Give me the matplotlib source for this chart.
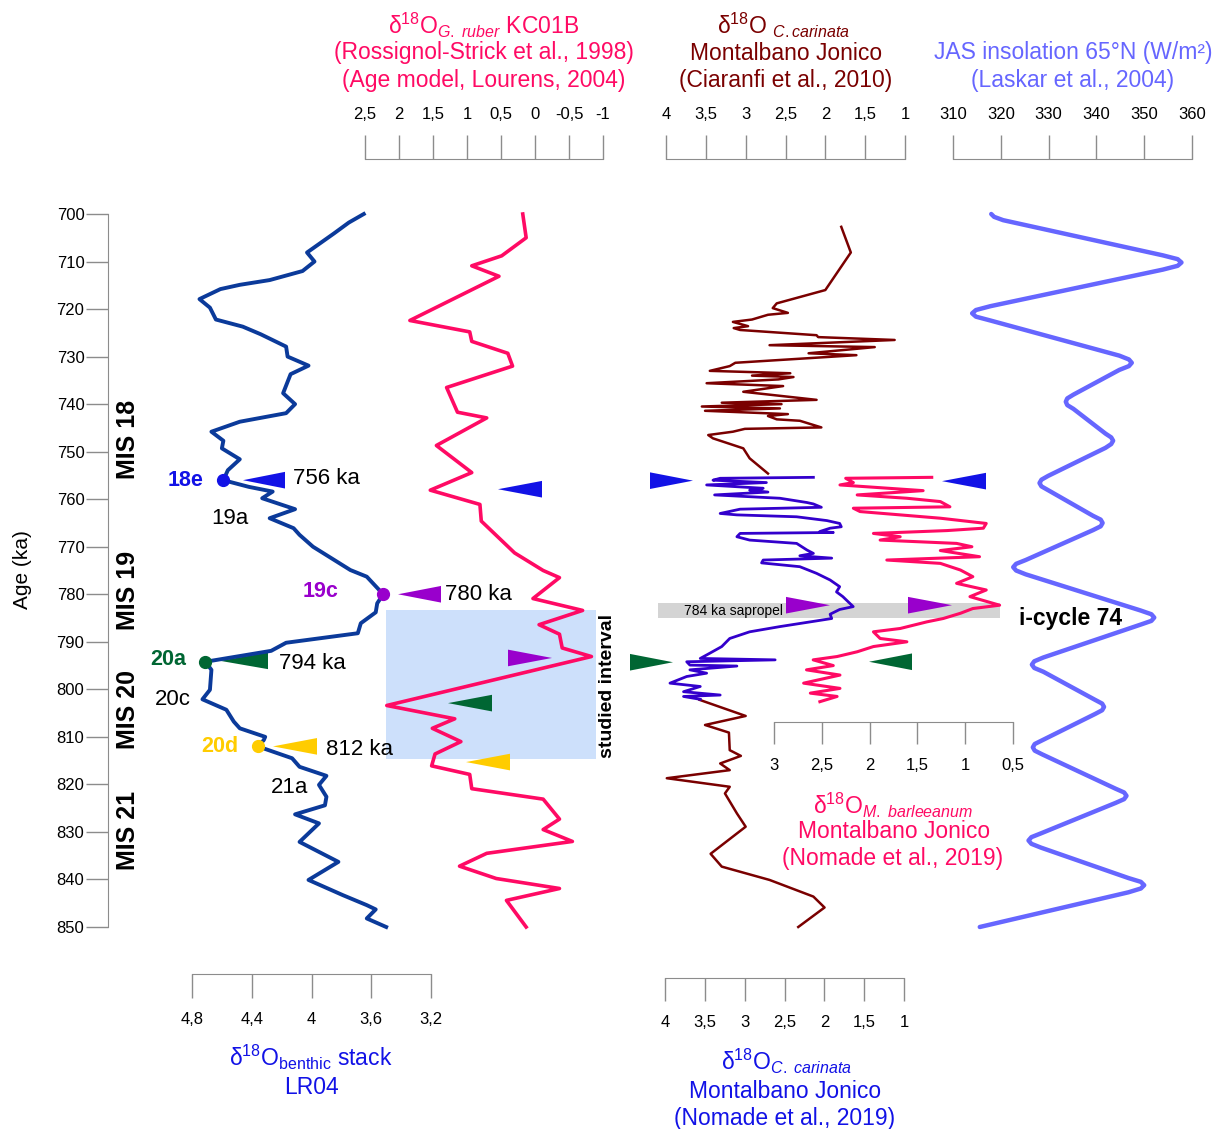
import numpy as np
import matplotlib.pyplot as plt
from matplotlib.patches import Rectangle

plt.rcParams['font.family'] = ['Liberation Sans', 'DejaVu Sans']
plt.rcParams['mathtext.fontset'] = 'custom'
plt.rcParams['mathtext.rm'] = 'Liberation Sans'
plt.rcParams['mathtext.it'] = 'Liberation Sans:italic'
plt.rcParams['mathtext.bf'] = 'Liberation Sans:bold'

# --- LR04 benthic stack (age ka, d18O permil)
lr_age = [700.0, 701.8, 704.1, 708.1, 710.0, 712.0, 713.9, 714.9, 715.8, 717.9,
          719.7, 722.2, 723.7, 725.3, 727.9, 730.0, 731.9, 733.7, 737.7, 740.0,
          741.9, 743.7, 745.8, 747.7, 749.3, 751.6, 753.9, 756.0, 757.4, 758.4,
          759.8, 762.1, 764.0, 766.1, 767.5, 770.0, 774.9, 776.3, 780.0, 781.9,
          783.8, 786.1, 788.2, 790.2, 791.9, 794.2, 795.9, 800.1, 802.1, 804.3,
          806.8, 808.2, 810.0, 810.7, 812.0, 814.5, 816.3, 818.2, 820.1, 822.6,
          824.4, 826.3, 828.2, 832.1, 836.3, 840.1, 843.3, 845.4, 846.3, 848.2, 850.0]
lr_val = [3.65, 3.75, 3.85, 4.03, 3.98, 4.06, 4.28, 4.48, 4.61, 4.75,
          4.68, 4.64, 4.46, 4.34, 4.17, 4.16, 4.02, 4.14, 4.19, 4.11,
          4.17, 4.48, 4.67, 4.59, 4.60, 4.48, 4.56, 4.59, 4.42, 4.26,
          4.33, 4.11, 4.28, 4.12, 4.08, 3.99, 3.74, 3.63, 3.52, 3.56,
          3.57, 3.67, 3.69, 4.17, 4.27, 4.71, 4.67, 4.68, 4.73, 4.57,
          4.52, 4.48, 4.31, 4.32, 4.36, 4.13, 4.08, 3.90, 3.95, 3.90,
          3.91, 4.11, 3.95, 4.08, 3.82, 4.02, 3.79, 3.63, 3.57, 3.63, 3.50]

# marine isotope events on LR04
ev_name = ['18e', '19c', '20a', '20d']
ev_age = [756.0, 780.0, 794.2, 812.0]
ev_val = [4.59, 3.52, 4.71, 4.36]
ev_label = ['756 ka', '780 ka', '794 ka', '812 ka']

# --- KC01B G. ruber
kc_age = [700.0, 705.0, 708.8, 710.9, 713.1, 722.4, 724.8, 726.8, 729.3, 732.0,
          736.5, 741.7, 742.9, 748.7, 754.4, 758.1, 761.1, 764.6, 771.3, 775.0,
          776.5, 780.9, 783.4, 786.4, 788.4, 791.3, 793.1, 803.4, 806.2, 808.2,
          811.0, 813.6, 816.1, 817.9, 820.9, 823.1, 827.3, 829.5, 832.0, 834.5,
          837.2, 839.8, 841.9, 844.4, 850.0]
kc_val = [0.18, 0.13, 0.49, 0.93, 0.53, 1.84, 0.96, 0.93, 0.40, 0.33,
          1.30, 1.14, 0.71, 1.45, 0.93, 1.54, 0.81, 0.79, 0.30, -0.12,
          -0.36, 0.03, -0.70, -0.06, -0.36, -0.40, -0.83, 2.18, 1.18, 1.51,
          1.09, 1.47, 1.52, 0.96, 0.93, -0.12, -0.36, -0.12, -0.55, 0.71,
          1.11, 0.57, -0.36, 0.42, 0.13]

# --- Montalbano Jonico C. carinata (Ciaranfi et al., 2010)
ci_age_top = [702.7, 708.1, 716.0, 718.8, 719.8, 720.8, 721.2, 722.2, 722.7, 723.6,
              724.0, 724.4, 725.5, 725.9, 726.5, 727.6, 728.0, 729.3, 729.7, 731.3,
              732.0, 733.0, 733.5, 734.0, 734.3, 734.8, 735.6, 736.2, 737.4, 739.1,
              739.7, 740.0, 740.5, 740.9, 741.4, 742.1, 742.5, 743.2, 743.5, 744.9,
              745.2, 745.8, 746.5, 747.2, 749.3, 751.4, 754.6]
ci_val_top = [1.80, 1.68, 2.00, 2.61, 2.66, 2.47, 2.72, 2.92, 3.16, 2.97,
              3.15, 3.07, 2.11, 2.09, 1.13, 2.70, 1.38, 2.21, 1.61, 3.13,
              3.20, 3.45, 2.44, 2.92, 2.40, 2.59, 3.49, 2.53, 3.03, 2.11,
              3.30, 2.55, 3.55, 2.57, 3.51, 2.47, 2.72, 2.61, 2.32, 2.05,
              3.01, 3.16, 3.47, 3.41, 3.03, 2.95, 2.72]
ci_age_low = [802.2, 805.6, 807.5, 809.1, 812.8, 814.0, 815.6, 817.0, 818.7, 820.5,
              821.9, 826.1, 828.9, 834.6, 837.3, 840.1, 843.6, 845.9, 850.0]
ci_val_low = [3.58, 3.00, 3.51, 3.21, 3.20, 3.06, 3.32, 3.20, 3.99, 3.20,
              3.26, 3.11, 3.00, 3.44, 3.30, 2.70, 2.15, 2.01, 2.34]

# --- Montalbano Jonico C. carinata (Nomade et al., 2019)
nc_age = [755.4, 755.6, 756.0, 756.5, 757.0, 757.7, 758.1, 758.5, 759.1, 759.8,
          760.7, 761.0, 761.7, 762.1, 763.0, 763.3, 763.7, 764.5, 765.1, 765.8,
          766.1, 766.8, 767.0, 767.2, 767.9, 768.6, 769.3, 770.7, 771.4, 771.9,
          772.4, 772.8, 773.4, 774.2, 775.6, 777.0, 778.4, 779.5, 780.5, 782.6,
          783.2, 784.2, 785.1, 785.6, 786.8, 787.9, 789.3, 791.0, 792.4, 793.5,
          793.8, 794.2, 794.9, 795.1, 795.9, 796.6, 797.3, 798.7, 799.4, 800.5,
          801.2, 801.5, 802.1]
nc_val = [2.15, 3.32, 3.41, 2.74, 3.49, 2.78, 2.95, 2.72, 3.39, 2.57,
          2.23, 2.15, 2.05, 3.07, 3.32, 3.11, 2.36, 1.98, 1.82, 1.80,
          1.94, 2.07, 1.90, 3.07, 3.11, 2.95, 2.36, 2.23, 2.15, 2.32,
          1.92, 2.78, 2.80, 2.32, 2.11, 1.94, 1.82, 1.86, 1.78, 1.65,
          1.82, 1.94, 1.92, 2.11, 2.57, 2.95, 3.20, 3.30, 3.45, 3.57,
          2.63, 3.74, 3.70, 3.11, 3.70, 3.49, 3.74, 3.95, 3.57, 3.78,
          3.32, 3.78, 3.57]

# --- Montalbano Jonico M. barleeanum (Nomade et al., 2019)
nb_age = [755.4, 755.6, 756.5, 757.0, 758.2, 759.1, 759.8, 760.5, 761.6, 761.9,
          762.6, 764.0, 765.1, 766.1, 766.6, 767.2, 767.9, 768.6, 769.3, 770.0,
          770.8, 772.1, 772.8, 773.5, 774.9, 776.3, 777.7, 779.1, 780.5, 782.3,
          783.0, 784.0, 785.1, 785.8, 787.2, 787.9, 789.3, 790.0, 791.0, 792.1,
          793.1, 793.8, 795.0, 795.9, 797.0, 798.7, 799.8, 800.8, 801.5, 802.6]
nb_val = [1.35, 2.25, 2.17, 2.31, 1.44, 2.13, 1.61, 1.26, 1.16, 2.17,
          2.10, 1.26, 0.78, 0.81, 1.19, 1.96, 1.68, 1.89, 1.09, 0.93,
          1.26, 0.85, 1.82, 1.26, 1.05, 0.92, 1.09, 0.78, 0.95, 0.64,
          0.92, 1.05, 1.23, 1.40, 1.68, 1.96, 1.89, 1.61, 1.96, 2.13,
          2.34, 2.59, 2.38, 2.66, 2.31, 2.69, 2.31, 2.62, 2.34, 2.52]

# --- JAS insolation 65N (Laskar et al., 2004)
ja_age = [700.0, 700.6, 701.3,
          708.7, 709.5, 710.2, 710.9, 711.7,
          719.4, 720.2, 720.9, 721.6, 722.4,
          729.8, 730.6, 731.3, 732.0, 732.8,
          738.0, 738.8, 739.5, 740.2, 741.0,
          746.2, 747.0, 747.7, 748.4, 749.2,
          755.1, 755.9, 756.6, 757.3, 758.1,
          763.5, 764.3, 765.0, 765.7, 766.5,
          772.8, 773.6, 774.3, 775.0, 775.8,
          783.4, 784.2, 784.9, 785.6, 786.4,
          793.3, 794.1, 794.8, 795.5, 796.3,
          802.2, 803.0, 803.7, 804.4, 805.2,
          810.7, 811.5, 812.2, 812.9, 813.7,
          820.9, 821.7, 822.4, 823.1, 823.9,
          830.3, 831.1, 831.8, 832.5, 833.3,
          839.7, 840.5, 841.2, 841.9, 842.7,
          850.0]
ja_val = [318.0, 318.6, 320.5,
          353.9, 357.0, 357.8, 357.0, 353.9,
          317.8, 314.8, 314.0, 314.8, 317.8,
          344.8, 346.8, 347.4, 346.8, 344.8,
          335.2, 333.9, 333.6, 333.9, 335.2,
          341.9, 343.1, 343.5, 343.1, 341.9,
          329.9, 328.5, 328.1, 328.5, 329.9,
          339.3, 340.9, 341.3, 340.9, 339.3,
          325.2, 323.2, 322.6, 323.2, 325.2,
          349.2, 351.5, 352.1, 351.5, 349.2,
          328.9, 327.0, 326.5, 327.0, 328.9,
          339.7, 341.2, 341.6, 341.2, 339.7,
          328.7, 327.1, 326.7, 327.1, 328.7,
          344.0, 345.8, 346.3, 345.8, 344.0,
          328.4, 326.4, 325.8, 326.4, 328.4,
          346.7, 349.3, 350.0, 349.3, 346.7,
          315.6]

age_ticks = list(range(700, 851, 10))

lr_ticks = [4.8, 4.4, 4.0, 3.6, 3.2]
lr_labels = ['4,8', '4,4', '4', '3,6', '3,2']
kc_ticks = [2.5, 2, 1.5, 1, 0.5, 0, -0.5, -1]
kc_labels = ['2,5', '2', '1,5', '1', '0,5', '0', '-0,5', '-1']
cc_ticks = [4, 3.5, 3, 2.5, 2, 1.5, 1]
cc_labels = ['4', '3,5', '3', '2,5', '2', '1,5', '1']
mb_ticks = [3, 2.5, 2, 1.5, 1, 0.5]
mb_labels = ['3', '2,5', '2', '1,5', '1', '0,5']
ja_ticks = [310, 320, 330, 340, 350, 360]
ja_labels = ['310', '320', '330', '340', '350', '360']

GREY = '#8c8c8c'
NAVY = '#0b3a9a'
BLUE = '#1212e6'
PINK = '#ff0a64'
DARKRED = '#7a0000'
INDIGO = '#3300cc'
LAVENDER = '#6666ff'
PURPLE = '#9900cc'
GREEN = '#006633'
YELLOW = '#ffcc00'
ev_color = [BLUE, PURPLE, GREEN, YELLOW]

W, H = 1217, 1129
fig = plt.figure(figsize=(W / 100, H / 100), dpi=100)


def box(x0, y0, x1, y1):
    # pixel box (top-left origin) -> figure rect
    return [x0 / W, 1 - y1 / H, (x1 - x0) / W, (y1 - y0) / H]


def ftext(x, y, s, **kw):
    kw.setdefault('ha', 'center')
    kw.setdefault('va', 'center')
    fig.text(x / W, 1 - y / H, s, **kw)


# main age axis; x runs in pixels so that annotations can be placed freely
X0, X1 = 108, 1217
ax = fig.add_axes(box(X0, 214, X1, 927))
ax.set_xlim(X0, X1)
ax.set_ylim(850, 700)
ax.patch.set_alpha(0)
for s in ('top', 'right', 'bottom'):
    ax.spines[s].set_visible(False)
ax.spines['left'].set_color(GREY)
ax.set_xticks([])
ax.set_yticks(age_ticks)
ax.tick_params(axis='y', length=16, width=1, color=GREY, labelsize=12, pad=1)
ftext(22, 570, 'Age (ka)', rotation=90, fontsize=15)


def track(v0, v1, p0, p1):
    # twin axis whose value scale puts v0 at pixel p0 and v1 at pixel p1
    t = ax.twiny()
    k = (v1 - v0) / (p1 - p0)
    t.set_xlim(v0 + (X0 - p0) * k, v0 + (X1 - p0) * k)
    t.axis('off')
    return t


def scale(x0, x1, y_line, y_tip, v0, v1, ticks, labels, pad):
    up = y_tip < y_line
    s = fig.add_axes(box(x0, min(y_line, y_tip), x1, max(y_line, y_tip)))
    s.set_xlim(v0, v1)
    s.patch.set_alpha(0)
    s.set_yticks([])
    for sp in s.spines.values():
        sp.set_visible(False)
    side = 'bottom' if up else 'top'
    s.spines[side].set_visible(True)
    s.spines[side].set_color(GREY)
    s.xaxis.set_ticks_position('top' if up else 'bottom')
    s.set_xticks(ticks)
    s.set_xticklabels(labels)
    s.tick_params(axis='x', direction='in', length=abs(y_line - y_tip) * 0.72,
                  width=1, color=GREY, labelsize=12, pad=pad)
    return s


# background boxes
ax.add_patch(Rectangle((386, 783.4), 210, 31.3, color='#cde0fb', lw=0, zorder=0))
ax.add_patch(Rectangle((658, 781.8), 342, 3.1, color='#d4d4d4', lw=0, zorder=0))
ax.text(733, 783.6, '784 ka sapropel', fontsize=10, ha='center', va='center')
ax.text(607, 799.3, 'studied interval', rotation=90, fontsize=14, fontweight='bold',
        ha='center', va='center')
ax.text(1071, 785.2, 'i-cycle 74', fontsize=16.5, fontweight='bold', ha='center', va='center')

# MIS labels
for name, a in [('MIS 18', 747.5), ('MIS 19', 779.1), ('MIS 20', 804.3), ('MIS 21', 829.6)]:
    ax.text(128, a, name, rotation=90, fontsize=18, fontweight='bold', ha='center', va='center')


def wedge(tip, base, age, color, half=1.75):
    ax.fill([tip, base, base], [age, age - half, age + half], color=color, lw=0, zorder=3)


# event pointers: (tip px, base px, age)
wedges = [(243, 285, 756.0, BLUE), (398, 441, 780.0, PURPLE),
          (220, 268, 794.0, GREEN), (273, 317, 812.0, YELLOW),
          (498, 542, 757.9, BLUE), (552, 508, 793.4, PURPLE),
          (448, 492, 802.9, GREEN), (466, 510, 815.3, YELLOW),
          (693, 650, 756.1, BLUE), (673, 630, 794.3, GREEN),
          (830, 786, 782.3, PURPLE), (952, 908, 782.3, PURPLE),
          (869, 912, 794.2, GREEN), (942, 986, 756.2, BLUE)]
for tip, base, a, c in wedges:
    wedge(tip, base, a, c)

# event labels next to the LR04 curve
name_pos = [(186, 756.0), (321, 779.5), (168, 793.8), (220, 812.1)]
age_pos = [(293, 755.6), (445, 780.0), (279, 794.5), (326, 812.6)]
for i in range(4):
    ax.text(*name_pos[i], ev_name[i], color=ev_color[i], fontsize=15.5,
            fontweight='bold', ha='center', va='center')
    ax.text(*age_pos[i], ev_label[i], fontsize=16, ha='left', va='center')
for name, x, a in [('19a', 230, 764.0), ('20c', 173, 802.1), ('21a', 290, 820.6)]:
    ax.text(x, a, name, fontsize=16, ha='center', va='center')

# data tracks
t_lr = track(4.8, 3.2, 192, 431)
t_lr.plot(lr_val, lr_age, color=NAVY, lw=2.8, solid_joinstyle='round', clip_on=False)
for i in range(4):
    t_lr.plot(ev_val[i], ev_age[i], 'o', ms=8.5, color=ev_color[i], clip_on=False, zorder=5)

t_kc = track(2.5, -1, 365, 603)
t_kc.plot(kc_val, kc_age, color=PINK, lw=2.6, solid_joinstyle='round', clip_on=False)

t_cc = track(4, 1, 666, 905)
t_cc.plot(ci_val_top, ci_age_top, color=DARKRED, lw=1.8, clip_on=False)
t_cc.plot(ci_val_low, ci_age_low, color=DARKRED, lw=1.8, clip_on=False)
t_cc.plot(nc_val, nc_age, color=INDIGO, lw=2.0, clip_on=False)

t_mb = track(3, 0.5, 774, 1013)
t_mb.plot(nb_val, nb_age, color=PINK, lw=2.2, clip_on=False)

t_ja = track(310, 360, 953, 1192)
t_ja.plot(ja_val, ja_age, color=LAVENDER, lw=3.2, solid_joinstyle='round',
          solid_capstyle='round', clip_on=False)

# value scale bars
scale(365, 603, 159, 135, 2.5, -1, kc_ticks, kc_labels, 9)
scale(666, 905, 159, 135, 4, 1, cc_ticks, cc_labels, 9)
scale(953, 1192, 159, 135, 310, 360, ja_ticks, ja_labels, 9)
scale(192, 431, 974, 998, 4.8, 3.2, lr_ticks, lr_labels, 10)
scale(665, 904, 978, 1001, 4, 1, cc_ticks, cc_labels, 10)
scale(774, 1013, 722, 744, 3, 0.5, mb_ticks, mb_labels, 10)

# track titles
ftext(484, 25, r'δ$^{18}$O$_{\mathit{G.\ ruber}}$ KC01B', color=PINK, fontsize=16.5)
ftext(484, 53, '(Rossignol-Strick et al., 1998)', color=PINK, fontsize=16.5)
ftext(484, 80, '(Age model, Lourens, 2004)', color=PINK, fontsize=16.5)

ftext(783, 25, r'δ$^{18}$O $_{\mathit{C.carinata}}$', color=DARKRED, fontsize=16.5)
ftext(786, 53, 'Montalbano Jonico', color=DARKRED, fontsize=16.5)
ftext(786, 80, '(Ciaranfi et al., 2010)', color=DARKRED, fontsize=16.5)

ftext(1073, 53, 'JAS insolation 65°N (W/m²)', color=LAVENDER, fontsize=16.5)
ftext(1073, 80, '(Laskar et al., 2004)', color=LAVENDER, fontsize=16.5)

ftext(311, 1057, r'δ$^{18}$O$_{\mathrm{benthic}}$ stack', color=BLUE, fontsize=16.5)
ftext(311, 1087, 'LR04', color=BLUE, fontsize=16.5)

ftext(786, 1061, r'δ$^{18}$O$_{\mathit{C.\ carinata}}$', color=BLUE, fontsize=16.5)
ftext(785, 1092, 'Montalbano Jonico', color=BLUE, fontsize=16.5)
ftext(785, 1119, '(Nomade et al., 2019)', color=BLUE, fontsize=16.5)

ftext(893, 805, r'δ$^{18}$O$_{\mathit{M.\ barleeanum}}$', color=PINK, fontsize=16.5)
ftext(894, 832, 'Montalbano Jonico', color=PINK, fontsize=16.5)
ftext(893, 858, '(Nomade et al., 2019)', color=PINK, fontsize=16.5)

fig.savefig('out.png', dpi=100)
